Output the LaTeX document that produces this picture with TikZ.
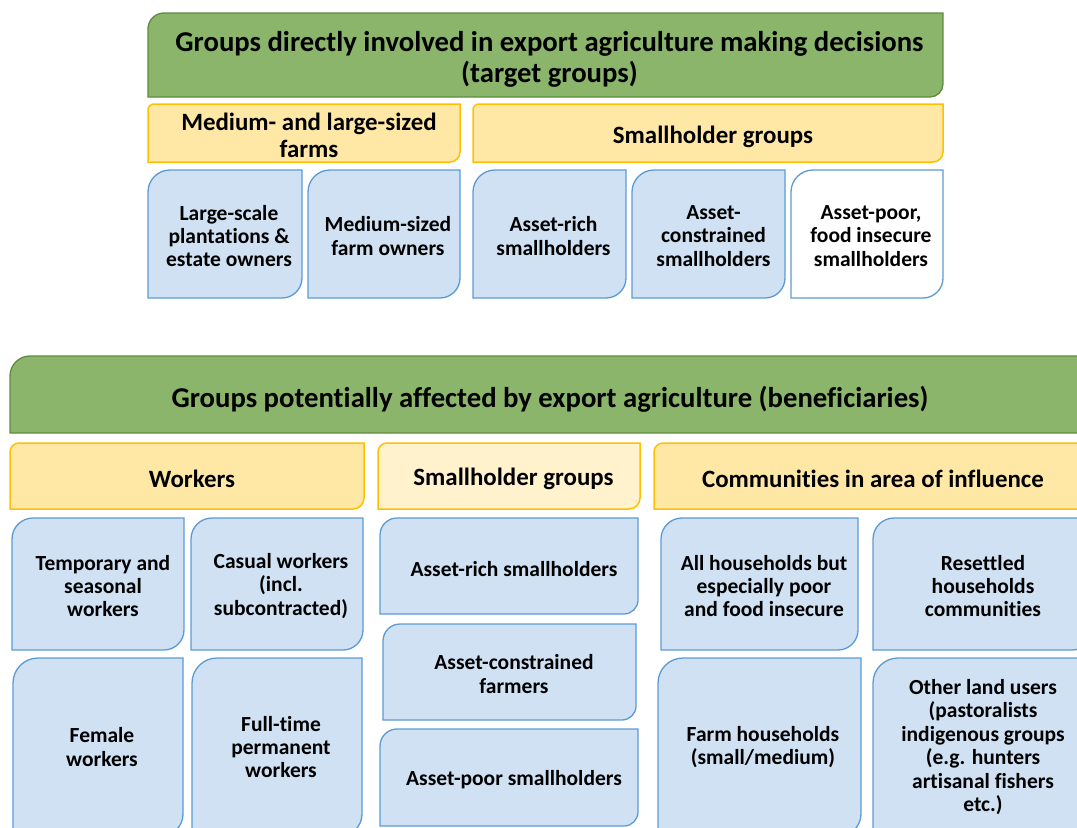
\documentclass[tikz,border=0pt]{standalone}
\usepackage{fontspec}
\setmainfont{Carlito}[Ligatures=NoCommon]
\definecolor{grnfill}{HTML}{8AB56B}
\definecolor{grnline}{HTML}{5E8C3E}
\definecolor{ylwfill}{HTML}{FFE8A6}
\definecolor{ylwlight}{HTML}{FFF2CC}
\definecolor{ylwline}{HTML}{FFC000}
\definecolor{blufill}{HTML}{CFE1F2}
\definecolor{bluline}{HTML}{5B9BD5}
\tikzset{
  hdr/.style={fill=grnfill, draw=grnline, line width=1.3bp},
  cat/.style={fill=ylwfill, draw=ylwline, line width=1.5bp},
  catlight/.style={cat, fill=ylwlight},
  item/.style={fill=blufill, draw=bluline, line width=1.3bp},
  itemw/.style={item, fill=white},
  txthdr/.style={font=\bfseries\fontsize{28.8}{31}\selectfont, align=center, inner sep=0pt},
  txtcat/.style={font=\bfseries\fontsize{25}{27}\selectfont, align=center, inner sep=0pt},
  txtitem/.style={font=\bfseries\fontsize{21.6}{23.5}\selectfont, align=center, inner sep=0pt},
}
% #1 x1, #2 y1, #3 x2, #4 y2, #5 radius top-left, #6 radius bottom-right, #7 style
\newcommand\shp[7]{%
  \path[#7] (#1,#4) -- (#1,{#2+#5})
    .. controls (#1,{#2+0.448*#5}) and ({#1+0.448*#5},#2) .. ({#1+#5},#2)
    -- (#3,#2) -- (#3,{#4-#6})
    .. controls (#3,{#4-0.448*#6}) and ({#3-0.448*#6},#4) .. ({#3-#6},#4)
    -- cycle;}
\begin{document}
\begin{tikzpicture}[x=1bp,y=-1bp]
\useasboundingbox (0,0) rectangle (1077,828);
\clip (0,0) rectangle (1077,828);
% ---------- top section ----------
\shp{148}{13}{943}{97}{16}{13}{hdr}
\node[txthdr] (g1) at (549.5,59) {Groups directly involved in export agriculture making decisions\\(target groups)};
\shp{148}{104}{460}{162}{6}{10}{cat}
\node[txtcat] (y1a) at (309,135.5) {Medium- and large-sized\\farms};
\shp{473}{104}{943}{162}{6}{10}{cat}
\node[txtcat] (y1b) at (713,137) {Smallholder groups};
\shp{148}{170}{302}{298}{22}{20}{item}
\node[txtitem] (b1) at (229,236) {Large-scale\\plantations \&\\estate owners};
\shp{308}{170}{460}{298}{22}{20}{item}
\node[txtitem] (b2) at (388,236) {Medium-sized\\farm owners};
\shp{473}{170}{626}{298}{22}{20}{item}
\node[txtitem] (b3) at (553.5,236) {Asset-rich\\smallholders};
\shp{632}{170}{785}{298}{22}{20}{item}
\node[txtitem] (b4) at (713.5,236) {Asset-\\constrained\\smallholders};
\shp{791}{170}{943}{298}{22}{20}{itemw}
\node[txtitem] (b5) at (871,236) {Asset-poor,\\food insecure\\smallholders};
% ---------- bottom section ----------
\shp{10}{356}{1090}{433}{20}{13}{hdr}
\node[txthdr] (g2) at (550,399) {Groups potentially affected by export agriculture (beneficiaries)};
\shp{10}{443}{364}{509}{9}{11}{cat}
\node[txtcat] (yw) at (192,479) {Workers};
\shp{378}{443}{640}{509}{9}{11}{catlight}
\node[txtcat] (ys) at (513.5,479) {Smallholder groups};
\shp{654}{443}{1092}{509}{9}{11}{cat}
\node[txtcat] (yc) at (873,479) {Communities in area of influence};
% workers
\shp{12}{518}{184}{650}{21}{20}{item}
\node[txtitem] (w1) at (103,586) {Temporary and\\seasonal\\workers};
\shp{191}{518}{363}{650}{21}{20}{item}
\node[txtitem] (w2) at (281,586) {Casual workers\\(incl.\\subcontracted)};
\shp{13}{658}{183}{836}{25}{22}{item}
\node[txtitem] (w3) at (102,747) {Female\\workers};
\shp{192}{658}{362}{836}{25}{22}{item}
\node[txtitem] (w4) at (281,747) {Full-time\\permanent\\workers};
% smallholders
\shp{380}{518}{638}{614}{17}{14}{item}
\node[txtitem] (s1) at (514,569) {Asset-rich smallholders};
\shp{383}{624}{636}{720}{17}{14}{item}
\node[txtitem] (s2) at (514,674) {Asset-constrained\\farmers};
\shp{380}{729}{638}{826}{17}{14}{item}
\node[txtitem] (s3) at (514,780) {Asset-poor smallholders};
% communities
\shp{661}{518}{858}{650}{21}{20}{item}
\node[txtitem] (c1) at (764,586) {All households but\\especially poor\\and food insecure};
\shp{873}{518}{1092}{650}{21}{20}{item}
\node[txtitem] (c2) at (983,586) {Resettled\\households\\communities};
\shp{658}{658}{861}{836}{25}{22}{item}
\node[txtitem] (c3) at (763,747) {Farm households\\(small/medium)};
\shp{873}{658}{1093}{836}{25}{22}{item}
\node[txtitem] (c4) at (983,747) {Other land users\\(pastoralists\\indigenous groups\\(e.g. hunters\\artisanal fishers\\etc.)};
\end{tikzpicture}
\end{document}
